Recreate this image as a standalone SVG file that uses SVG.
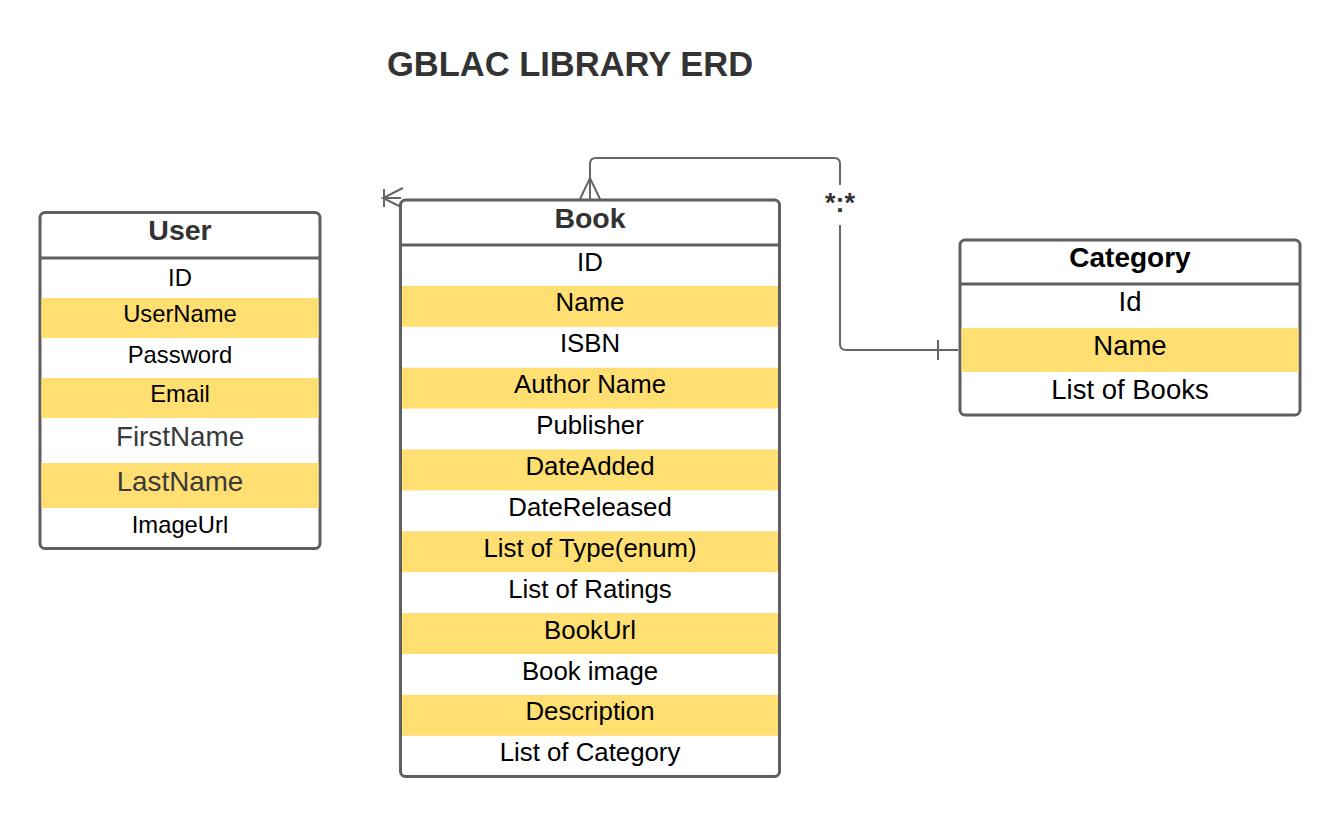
<svg xmlns="http://www.w3.org/2000/svg" width="1340" height="817" viewBox="0 0 1340 817">
<style>
.box{fill:#fff;stroke:#5f5f5f;stroke-width:3}
.sep{stroke:#5f5f5f;stroke-width:3}
.hl{fill:#ffdf71}
.hd{font-family:"Liberation Sans",Arial,sans-serif;font-weight:bold;fill:#333;text-anchor:middle}
.rw{font-family:"Liberation Sans",Arial,sans-serif;fill:#000;text-anchor:middle}
.cn{fill:none;stroke:#666;stroke-width:2}
</style>
<rect width="1340" height="817" fill="#fff"/>
<text x="570" y="76" class="hd" font-size="34.5">GBLAC LIBRARY ERD</text>

<g id="connectors">
<path class="cn" d="M958 350 H846 Q840 350 840 344 V225"/>
<path class="cn" d="M840 185 V164 Q840 158 834 158 H596 Q590 158 590 164 V200"/>
<path class="cn" d="M580 199 L590 178 L600 199"/>
<path class="cn" d="M938 340 V360"/>
<path class="cn" d="M403 188 L383 198 L403 208 M383 198 H401 M384 189 V207"/>
<text x="840" y="212" class="hd" font-size="27">*:*</text>
</g>

<g id="user">
<rect class="box" x="40" y="212.5" width="280" height="336" rx="5"/>
<rect class="hl" x="41.5" y="298" width="277" height="40"/>
<rect class="hl" x="41.5" y="378" width="277" height="40"/>
<rect class="hl" x="41.5" y="463" width="277" height="45"/>
<line class="sep" x1="40" y1="258" x2="320" y2="258"/>
<text x="180" y="240" class="hd" font-size="28.5">User</text>
<text x="180" y="286" class="rw" font-size="23.8">ID</text>
<text x="180" y="322" class="rw" font-size="23.8">UserName</text>
<text x="180" y="363" class="rw" font-size="23.8">Password</text>
<text x="180" y="402" class="rw" font-size="23.8">Email</text>
<text x="180" y="446" class="rw" font-size="27.8" style="fill:#3a3a3a">FirstName</text>
<text x="180" y="491" class="rw" font-size="27.8" style="fill:#3a3a3a">LastName</text>
<text x="180" y="533" class="rw" font-size="23.8">ImageUrl</text>
</g>

<g id="book">
<rect class="box" x="400.5" y="200" width="379" height="576.5" rx="5"/>
<rect class="hl" x="402" y="285.9" width="376" height="40.9"/>
<rect class="hl" x="402" y="367.7" width="376" height="40.9"/>
<rect class="hl" x="402" y="449.5" width="376" height="40.9"/>
<rect class="hl" x="402" y="531.3" width="376" height="40.9"/>
<rect class="hl" x="402" y="613.1" width="376" height="40.9"/>
<rect class="hl" x="402" y="694.9" width="376" height="40.9"/>
<line class="sep" x1="400.5" y1="245" x2="779.5" y2="245"/>
<text x="590" y="228" class="hd" font-size="28.5">Book</text>
<text x="590" y="270.5" class="rw" font-size="25.8">ID</text>
<text x="590" y="311.4" class="rw" font-size="25.8">Name</text>
<text x="590" y="352.3" class="rw" font-size="25.8">ISBN</text>
<text x="590" y="393.2" class="rw" font-size="25.8">Author Name</text>
<text x="590" y="434.1" class="rw" font-size="25.8">Publisher</text>
<text x="590" y="475" class="rw" font-size="25.8">DateAdded</text>
<text x="590" y="515.9" class="rw" font-size="25.8">DateReleased</text>
<text x="590" y="556.8" class="rw" font-size="25.8">List of Type(enum)</text>
<text x="590" y="597.7" class="rw" font-size="25.8">List of Ratings</text>
<text x="590" y="638.6" class="rw" font-size="25.8">BookUrl</text>
<text x="590" y="679.5" class="rw" font-size="25.8">Book image</text>
<text x="590" y="720.4" class="rw" font-size="25.8">Description</text>
<text x="590" y="761.3" class="rw" font-size="25.8">List of Category</text>
</g>

<g id="category">
<rect class="box" x="960" y="240" width="340" height="175" rx="5"/>
<rect class="hl" x="961.5" y="328" width="337" height="44"/>
<line class="sep" x1="960" y1="284" x2="1300" y2="284"/>
<text x="1130" y="267" class="hd" font-size="28" style="fill:#000">Category</text>
<text x="1130" y="311" class="rw" font-size="27.5">Id</text>
<text x="1130" y="355" class="rw" font-size="27.5">Name</text>
<text x="1130" y="398.5" class="rw" font-size="27.5">List of Books</text>
</g>
</svg>
